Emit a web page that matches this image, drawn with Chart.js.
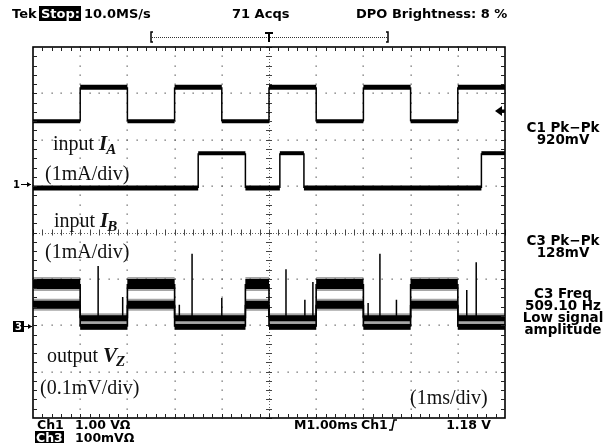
<!DOCTYPE html>
<html><head><meta charset="utf-8">
<script src="https://cdn.jsdelivr.net/npm/chart.js@4/dist/chart.umd.min.js"></script>
<style>html,body{margin:0;padding:0;background:#fff;}#wrap{width:610px;height:448px;position:relative;}</style>
</head><body><div id="wrap"><canvas id="c" width="610" height="448"></canvas></div>
<script>
// ---- data (time in divisions of 1 ms, level in vertical divisions) ----
const edgesA = [0, 1, 2, 3, 4, 5, 6, 7, 8, 9, 10];
const statesA = [0, 1, 0, 1, 0, 1, 0, 1, 0, 1];
const levelsA = [2.40, 3.13];

const edgesB = [0, 3.5, 4.5, 5.23, 5.74, 9.5, 10];
const statesB = [0, 1, 0, 1, 0, 1];
const levelsB = [0.96, 1.71];

const edgesZ = [0, 1, 2, 3, 4.5, 5, 6, 7, 8, 9, 10];
const statesZ = [1, 0, 1, 0, 1, 0, 1, 0, 1, 0];
const levelsZUpper = [-1.85, -1.11];
const levelsZLower = [-2.03, -1.56];

const spikeTimes = [1.38, 1.9, 3.1, 3.37, 4.0, 5.36, 5.76, 5.93, 7.1, 7.35, 7.7, 9.19, 9.39];
const spikeTops = [-0.72, -1.39, -1.56, -0.46, -1.41, -0.79, -1.45, -1.07, -1.52, -0.46, -1.45, -1.24, -0.64];
const spikeBase = -1.9;

const headerTexts = ['Tek', 'Stop:', '10.0MS/s', '71 Acqs', 'DPO Brightness: 8 %'];
const sideTexts = [['C1 Pk\u2212Pk', '920mV'], ['C3 Pk\u2212Pk', '128mV'], ['C3 Freq', '509.10 Hz', 'Low signal', 'amplitude']];
const footerTexts = ['Ch1', '1.00 V\u03A9', 'M1.00ms', 'Ch1', '1.18 V', 'Ch3', '100mV\u03A9'];

// ---- helpers building library datasets from the arrays ----
function stepPoints(edges, states, levels) {
  const pts = [];
  for (let i = 0; i < states.length; i++) {
    const y = levels[states[i]];
    pts.push({x: edges[i], y: y}, {x: edges[i + 1], y: y});
  }
  return pts;
}
function spikePoints() {
  const pts = [];
  spikeTimes.forEach((t, i) => {
    pts.push({x: t, y: spikeBase}, {x: t, y: spikeTops[i]}, {x: t, y: null});
  });
  return pts;
}
function horiz(ctx) { return ctx.p0.parsed.y === ctx.p1.parsed.y; }
function traceDataset(pts, hiLevel, wHi, wLo, wEdge, color) {
  return {
    data: pts, borderColor: color || '#000', pointRadius: 0, borderWidth: wEdge, tension: 0,
    segment: {
      borderWidth: ctx => horiz(ctx) ? (ctx.p0.parsed.y === hiLevel ? wHi : wLo) : wEdge
    }
  };
}
function innerLine(pts, loLevel, w) {
  return {
    data: pts, pointRadius: 0, borderWidth: w, tension: 0, borderColor: '#fff',
    segment: {
      borderColor: ctx => (horiz(ctx) && ctx.p0.parsed.y === loLevel) ? '#fff' : 'rgba(0,0,0,0)',
      borderWidth: ctx => (horiz(ctx) && ctx.p0.parsed.y === loLevel) ? w : 0.01
    }
  };
}

const ptsA = stepPoints(edgesA, statesA, levelsA);
const ptsB = stepPoints(edgesB, statesB, levelsB);
const ptsZU = stepPoints(edgesZ, statesZ, levelsZUpper);
const ptsZL = stepPoints(edgesZ, statesZ, levelsZLower);

// ---- decorations: graticule, frame, markers, readouts ----
const scope = {
  id: 'scope',
  beforeDatasetsDraw(chart) {
    const ctx = chart.ctx, xs = chart.scales.x, ys = chart.scales.y;
    const px = v => xs.getPixelForValue(v), py = v => ys.getPixelForValue(v);
    ctx.save();
    ctx.fillStyle = '#666';
    for (let i = 1; i < 10; i++) {
      if (i === 5) continue;
      for (let j = 0; j <= 40; j++) ctx.fillRect(Math.round(px(i)) - 0.5, Math.round(py(-4 + j * 0.2)) - 0.5, 1.3, 1.3);
    }
    for (let k = -3; k <= 3; k++) {
      if (k === 0) continue;
      for (let j = 0; j <= 50; j++) ctx.fillRect(Math.round(px(j * 0.2)) - 0.5, Math.round(py(k)) - 0.5, 1.3, 1.3);
    }
    ctx.strokeStyle = '#666'; ctx.lineWidth = 1; ctx.setLineDash([1, 2]);
    ctx.beginPath();
    ctx.moveTo(px(0), Math.round(py(0)) + 0.5); ctx.lineTo(px(10), Math.round(py(0)) + 0.5);
    ctx.moveTo(Math.round(px(5)) + 0.5, py(4)); ctx.lineTo(Math.round(px(5)) + 0.5, py(-4));
    ctx.stroke();
    ctx.setLineDash([]);
    ctx.strokeStyle = '#444';
    ctx.beginPath();
    for (let j = 0; j <= 50; j++) { const x = Math.round(px(j * 0.2)) + 0.5; ctx.moveTo(x, py(0) - 3); ctx.lineTo(x, py(0) + 3); }
    for (let j = 0; j <= 40; j++) { const y = Math.round(py(-4 + j * 0.2)) + 0.5; ctx.moveTo(px(5) - 3, y); ctx.lineTo(px(5) + 3, y); }
    ctx.stroke();
    ctx.restore();
  },
  afterDatasetsDraw(chart) {
    const ctx = chart.ctx, xs = chart.scales.x, ys = chart.scales.y;
    const px = v => xs.getPixelForValue(v), py = v => ys.getPixelForValue(v);
    const L = px(0), R = px(10), T = py(4), B = py(-4);
    ctx.save();
    ctx.strokeStyle = '#000'; ctx.lineWidth = 1.6;
    ctx.strokeRect(L, T, R - L, B - T);
    ctx.lineWidth = 1; ctx.strokeStyle = '#222';
    ctx.beginPath();
    for (let j = 1; j < 50; j++) {
      const x = Math.round(px(j * 0.2)) + 0.5;
      ctx.moveTo(x, T); ctx.lineTo(x, T + 4); ctx.moveTo(x, B); ctx.lineTo(x, B - 4);
    }
    for (let j = 1; j < 40; j++) {
      const y = Math.round(py(-4 + j * 0.2)) + 0.5;
      ctx.moveTo(L, y); ctx.lineTo(L + 4, y); ctx.moveTo(R, y); ctx.lineTo(R - 4, y);
    }
    ctx.stroke();

    ctx.textBaseline = 'alphabetic';
    ctx.fillStyle = '#000';
    // header
    const head = 'bold 13px "DejaVu Sans"';
    ctx.font = head; ctx.textAlign = 'left';
    ctx.fillText(headerTexts[0], 12, 18);
    ctx.fillRect(39, 6, 42, 15);
    ctx.fillStyle = '#fff'; ctx.fillText(headerTexts[1], 41, 18);
    ctx.fillStyle = '#000';
    ctx.fillText(headerTexts[2], 84, 18);
    ctx.fillText(headerTexts[3], 232, 18);
    ctx.fillText(headerTexts[4], 356, 18);
    // trigger bracket
    ctx.strokeStyle = '#333'; ctx.lineWidth = 1; ctx.setLineDash([1, 1]);
    ctx.beginPath(); ctx.moveTo(152, 37.5); ctx.lineTo(388, 37.5); ctx.stroke();
    ctx.setLineDash([]); ctx.lineWidth = 1.5; ctx.strokeStyle = '#000';
    ctx.beginPath();
    ctx.moveTo(153, 32); ctx.lineTo(151, 32); ctx.lineTo(151, 42); ctx.lineTo(153, 42);
    ctx.moveTo(386, 32); ctx.lineTo(388, 32); ctx.lineTo(388, 42); ctx.lineTo(386, 42);
    ctx.stroke();
    ctx.lineWidth = 2;
    const tx = Math.round(px(5));
    ctx.beginPath(); ctx.moveTo(tx - 4, 33); ctx.lineTo(tx + 4, 33); ctx.moveTo(tx, 33); ctx.lineTo(tx, 42); ctx.stroke();

    // side readouts
    ctx.textAlign = 'center'; ctx.font = 'bold 13.5px "DejaVu Sans"';
    const sideY = [[132, 144], [245, 257], [298, 310, 322, 334]];
    sideTexts.forEach((blk, b) => blk.forEach((s, i) => ctx.fillText(s, 563, sideY[b][i])));

    // footer
    const foot = 'bold 12.5px "DejaVu Sans"';
    ctx.textAlign = 'left'; ctx.font = foot;
    ctx.fillText(footerTexts[0], 37, 429);
    ctx.fillText(footerTexts[1], 75, 429);
    ctx.fillText(footerTexts[2], 294, 429);
    ctx.fillText(footerTexts[3], 361, 429);
    ctx.lineWidth = 1.5;
    ctx.beginPath(); ctx.moveTo(389, 430); ctx.lineTo(392, 430); ctx.lineTo(394, 420); ctx.lineTo(397, 420); ctx.stroke();
    ctx.textAlign = 'right'; ctx.fillText(footerTexts[4], 491, 429);
    ctx.textAlign = 'left';
    ctx.fillRect(35, 431, 29, 12);
    ctx.fillStyle = '#fff'; ctx.fillText(footerTexts[5], 36, 442);
    ctx.fillStyle = '#000'; ctx.fillText(footerTexts[6], 75, 442);

    // channel markers
    ctx.font = 'bold 10px "DejaVu Sans"';
    ctx.fillText('1', 13, 188);
    ctx.lineWidth = 1;
    ctx.beginPath(); ctx.moveTo(21, 184.5); ctx.lineTo(31, 184.5); ctx.stroke();
    ctx.beginPath(); ctx.moveTo(31, 184.5); ctx.lineTo(27, 182); ctx.lineTo(27, 187); ctx.closePath(); ctx.fill();
    ctx.fillRect(13, 321, 11, 11);
    ctx.fillStyle = '#fff'; ctx.fillText('3', 15, 330);
    ctx.fillStyle = '#000';
    ctx.beginPath(); ctx.moveTo(24, 326.5); ctx.lineTo(32, 326.5); ctx.stroke();
    ctx.beginPath(); ctx.moveTo(32, 326.5); ctx.lineTo(28, 324); ctx.lineTo(28, 329); ctx.closePath(); ctx.fill();
    // trigger level arrow
    ctx.beginPath(); ctx.moveTo(495, 111); ctx.lineTo(502, 106); ctx.lineTo(502, 116); ctx.closePath(); ctx.fill();
    ctx.fillRect(501, 109.5, 4, 3);

    // annotations (serif)
    const serif = '20px "Liberation Serif"', bi = 'bold italic 21px "Liberation Serif"', sub = 'bold italic 15px "Liberation Serif"';
    function label(x, y, word, big, small) {
      ctx.font = serif; ctx.fillText(word, x, y);
      let w = ctx.measureText(word).width;
      ctx.font = bi; ctx.fillText(big, x + w, y);
      w += ctx.measureText(big).width;
      ctx.font = sub; ctx.fillText(small, x + w - 1, y + 4);
    }
    ctx.fillStyle = '#111';
    label(53, 150, 'input ', 'I', 'A');
    label(54, 227, 'input ', 'I', 'B');
    label(47, 362, 'output ', 'V', 'Z');
    ctx.font = serif;
    ctx.fillText('(1mA/div)', 45, 180);
    ctx.fillText('(1mA/div)', 45, 258);
    ctx.fillText('(0.1mV/div)', 40, 394);
    ctx.fillText('(1ms/div)', 410, 404);
    ctx.restore();
  }
};

new Chart(document.getElementById('c'), {
  type: 'line',
  data: {
    datasets: [
      traceDataset(ptsA, levelsA[1], 5, 4, 1.5),
      traceDataset(ptsB, levelsB[1], 4, 5, 1.5),
      innerLine(ptsB, levelsB[0], 1.2),
      traceDataset(ptsZU, levelsZUpper[1], 14, 10, 1.5, 'rgba(0,0,0,0.35)'),
      traceDataset(ptsZL, levelsZLower[1], 12, 6, 1.5, 'rgba(0,0,0,0.35)'),
      traceDataset(ptsZU, levelsZUpper[1], 10, 6, 1.5),
      traceDataset(ptsZL, levelsZLower[1], 8, 6, 1.5),
      innerLine(ptsZL, levelsZLower[0], 1.5),
      {data: spikePoints(), borderColor: '#000', borderWidth: 1.5, pointRadius: 0, spanGaps: false}
    ]
  },
  options: {
    responsive: false, animation: false, events: [],
    layout: {padding: {left: 33, right: 105, top: 47, bottom: 30}},
    plugins: {legend: {display: false}, tooltip: {enabled: false}},
    scales: {
      x: {type: 'linear', min: 0, max: 10, display: false},
      y: {type: 'linear', min: -4, max: 4, display: false}
    }
  },
  plugins: [scope]
});
</script></body></html>
